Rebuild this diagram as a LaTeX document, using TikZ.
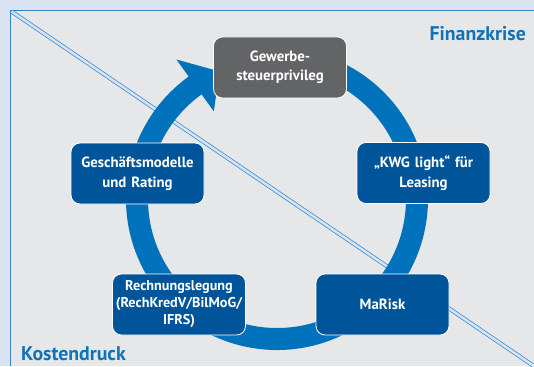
\documentclass[tikz,border=0pt]{standalone}
\usepackage{fontspec}
\setmainfont{PT Sans}
\usetikzlibrary{calc}
\definecolor{outerbg}{HTML}{D9E3F2}
\definecolor{panelbg}{HTML}{E6E7E9}
\definecolor{ringblue}{HTML}{0072BC}
\definecolor{boxblue}{HTML}{00559A}
\definecolor{boxgray}{HTML}{636466}
\definecolor{lineblue}{HTML}{2F86CC}
\definecolor{linefill}{HTML}{D6E3F4}
\definecolor{titleblue}{HTML}{1172BA}
\begin{document}
\begin{tikzpicture}[x=1pt,y=-1pt,
  stepbox/.style={draw=white, line width=0.8pt, fill=boxblue, rounded corners=9pt,
    minimum width=133pt, minimum height=61pt, text width=132pt, align=center,
    text=white, inner sep=0pt, font=\fontsize{14.8}{19.5}\selectfont\bfseries},
  graybox/.style={stepbox, fill=boxgray},
  title/.style={text=titleblue, font=\fontsize{19.8}{22}\selectfont\bfseries, inner sep=0pt},
  diag/.style={draw=lineblue, line width=0.7pt, double=linefill, double distance=2.6pt}]
\useasboundingbox (0,0) rectangle (534,366);
\fill[outerbg] (0,0) rectangle (534,366);
\fill[panelbg] (10,10) rectangle (534,366);
\coordinate (pBL) at (10.5,366);
\coordinate (pTL) at (10.5,10.5);
\coordinate (pTR) at (534,10.5);
\coordinate (dA) at (11.5,11.5);
\coordinate (dB) at (536,367.5);
\draw[lineblue, line width=1pt] (pBL) -- (pTL) -- (pTR);
\draw[diag] (dA) -- (dB);
% ring with arrow
\coordinate (c) at (277,199);
\fill[ringblue] ($(c)+(-80:151)$) arc[start angle=-80,end angle=234.2,radius=151]
  -- ($(c)+(234.2:172)$) -- ($(c)+(245.7:140)$) -- ($(c)+(234.2:108)$)
  -- ($(c)+(234.2:129)$) arc[start angle=234.2,end angle=-80,radius=129] -- cycle;
% boxes
\node[graybox] (gew) at (280,67.5) {Gewerbe-\\steuerprivileg};
\node[stepbox] (kwg) at (423.5,173) {„KWG light“ für\\Leasing};
\node[stepbox] (mar) at (382.5,304.5) {MaRisk};
\node[stepbox, font=\fontsize{14.2}{17}\selectfont\bfseries] (rech) at (179,304.5) {Rechnungslegung\\(RechKredV/BilMoG/\\IFRS)};
\node[stepbox] (ges) at (137.5,173.5) {Geschäftsmodelle\\und Rating};
% titles
\node[title, anchor=east] (fin) at (526,34) {Finanzkrise};
\node[title, anchor=west] (kos) at (21,354) {Kostendruck};
\end{tikzpicture}
\end{document}
